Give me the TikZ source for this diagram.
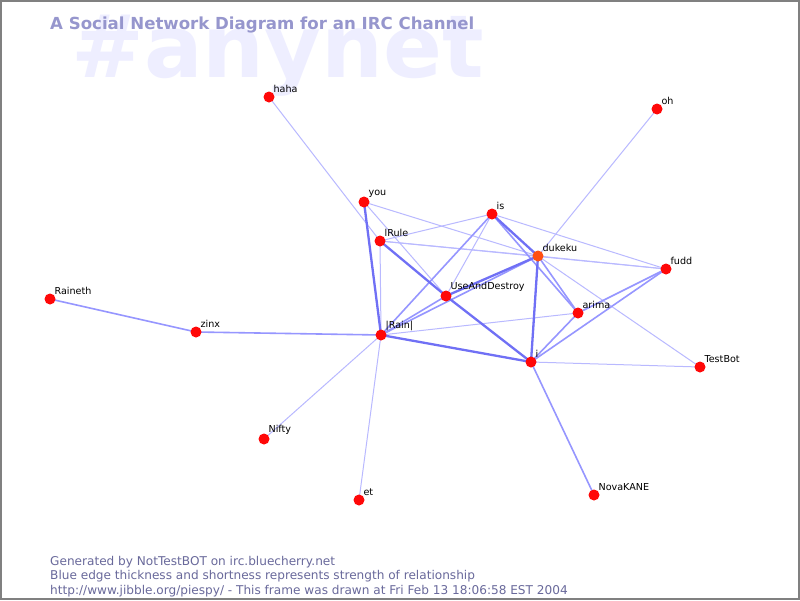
\documentclass[tikz,border=0pt]{standalone}
\usepackage{fontspec}
\setmainfont{DejaVu Sans}
\usetikzlibrary{backgrounds}
\definecolor{nickred}{RGB}{255,8,8}
\definecolor{hotred}{RGB}{255,80,20}
\definecolor{edgethin}{RGB}{185,185,255}
\definecolor{edgemid}{RGB}{150,150,255}
\definecolor{edgethick}{RGB}{112,112,245}
\definecolor{titleblue}{RGB}{150,150,205}
\definecolor{ghost}{RGB}{238,238,255}
\definecolor{footgray}{RGB}{105,105,155}

\begin{document}
\begin{tikzpicture}[x=1pt,y=-1pt,
  user/.style={circle,fill=nickred,minimum size=11pt,inner sep=0pt,
    label={[nick]45:#1}},
  nick/.style={font=\fontsize{9.6}{10}\selectfont,inner sep=0pt,label distance=0.5pt},
  weak/.style={draw=edgethin,line width=1pt},
  fair/.style={draw=edgemid,line width=1.6pt},
  strong/.style={draw=edgethick,line width=2.3pt},
  foot/.style={anchor=base west,inner sep=0pt,text=footgray,font=\fontsize{12.1}{13}\selectfont}]
  \useasboundingbox (0,0) rectangle (800,600);
  % the nicks
  \node[user=haha] (haha) at (269,97) {};
  \node[user=oh] (oh) at (657,109) {};
  \node[user=you] (you) at (364,202) {};
  \node[user=is] (is) at (492,214) {};
  \node[user=lRule] (lRule) at (380,241) {};
  \node[user=dukeku,fill=hotred] (dukeku) at (538,256) {};
  \node[user=fudd] (fudd) at (666,269) {};
  \node[user=Raineth] (Raineth) at (50,299) {};
  \node[user=UseAndDestroy] (UseAndDestroy) at (446,296) {};
  \node[user=zinx] (zinx) at (196,332) {};
  \node[user=arima] (arima) at (578,313) {};
  \node[user={|Rain|}] (Rain) at (381,335) {};
  \node[user=i] (i) at (531,362) {};
  \node[user=TestBot] (TestBot) at (700,367) {};
  \node[user=Nifty] (Nifty) at (264,439) {};
  \node[user=et] (et) at (359,500) {};
  \node[user=NovaKANE] (NovaKANE) at (594,495) {};
  \begin{pgfonlayer}{background}
    \fill[white] (0,0) rectangle (800,600);
    % channel name behind everything, then the title
    \node[anchor=base west,inner sep=0pt,text=ghost,font=\bfseries\fontsize{87}{87}\selectfont] (chan) at (71,77) {\#anynet};
    \node[anchor=base west,inner sep=0pt,text=titleblue,font=\bfseries\fontsize{16.6}{17}\selectfont] (title) at (50,29)
      {A Social Network Diagram for an IRC Channel};
    % who talks to whom
    \foreach \a/\b in {haha/lRule,oh/dukeku,you/dukeku,you/UseAndDestroy,lRule/is,lRule/dukeku,
        lRule/fudd,lRule/Rain,is/fudd,is/UseAndDestroy,dukeku/fudd,dukeku/TestBot,i/TestBot,
        Rain/arima,Rain/Nifty,Rain/et}
      \draw[weak] (\a.center) -- (\b.center);
    \foreach \a/\b in {Raineth/zinx,zinx/Rain,dukeku/arima,is/arima,i/fudd,arima/fudd,i/arima,
        i/NovaKANE,Rain/UseAndDestroy,Rain/dukeku,Rain/is}
      \draw[fair] (\a.center) -- (\b.center);
    \foreach \a/\b in {Rain/i,UseAndDestroy/dukeku,dukeku/i,UseAndDestroy/i,lRule/UseAndDestroy,
        you/Rain,is/dukeku}
      \draw[strong] (\a.center) -- (\b.center);
  \end{pgfonlayer}
  % footer
  \node[foot] (gen) at (50,565) {Generated by NotTestBOT on irc.bluecherry.net};
  \node[foot] (legend) at (50,579.5) {Blue edge thickness and shortness represents strength of relationship};
  \node[foot] (stamp) at (50,594) {http://www.jibble.org/piespy/ - This frame was drawn at Fri Feb 13 18:06:58 EST 2004};
  \draw[gray,line width=2pt] (1,1) rectangle (799,599);
\end{tikzpicture}
\end{document}
